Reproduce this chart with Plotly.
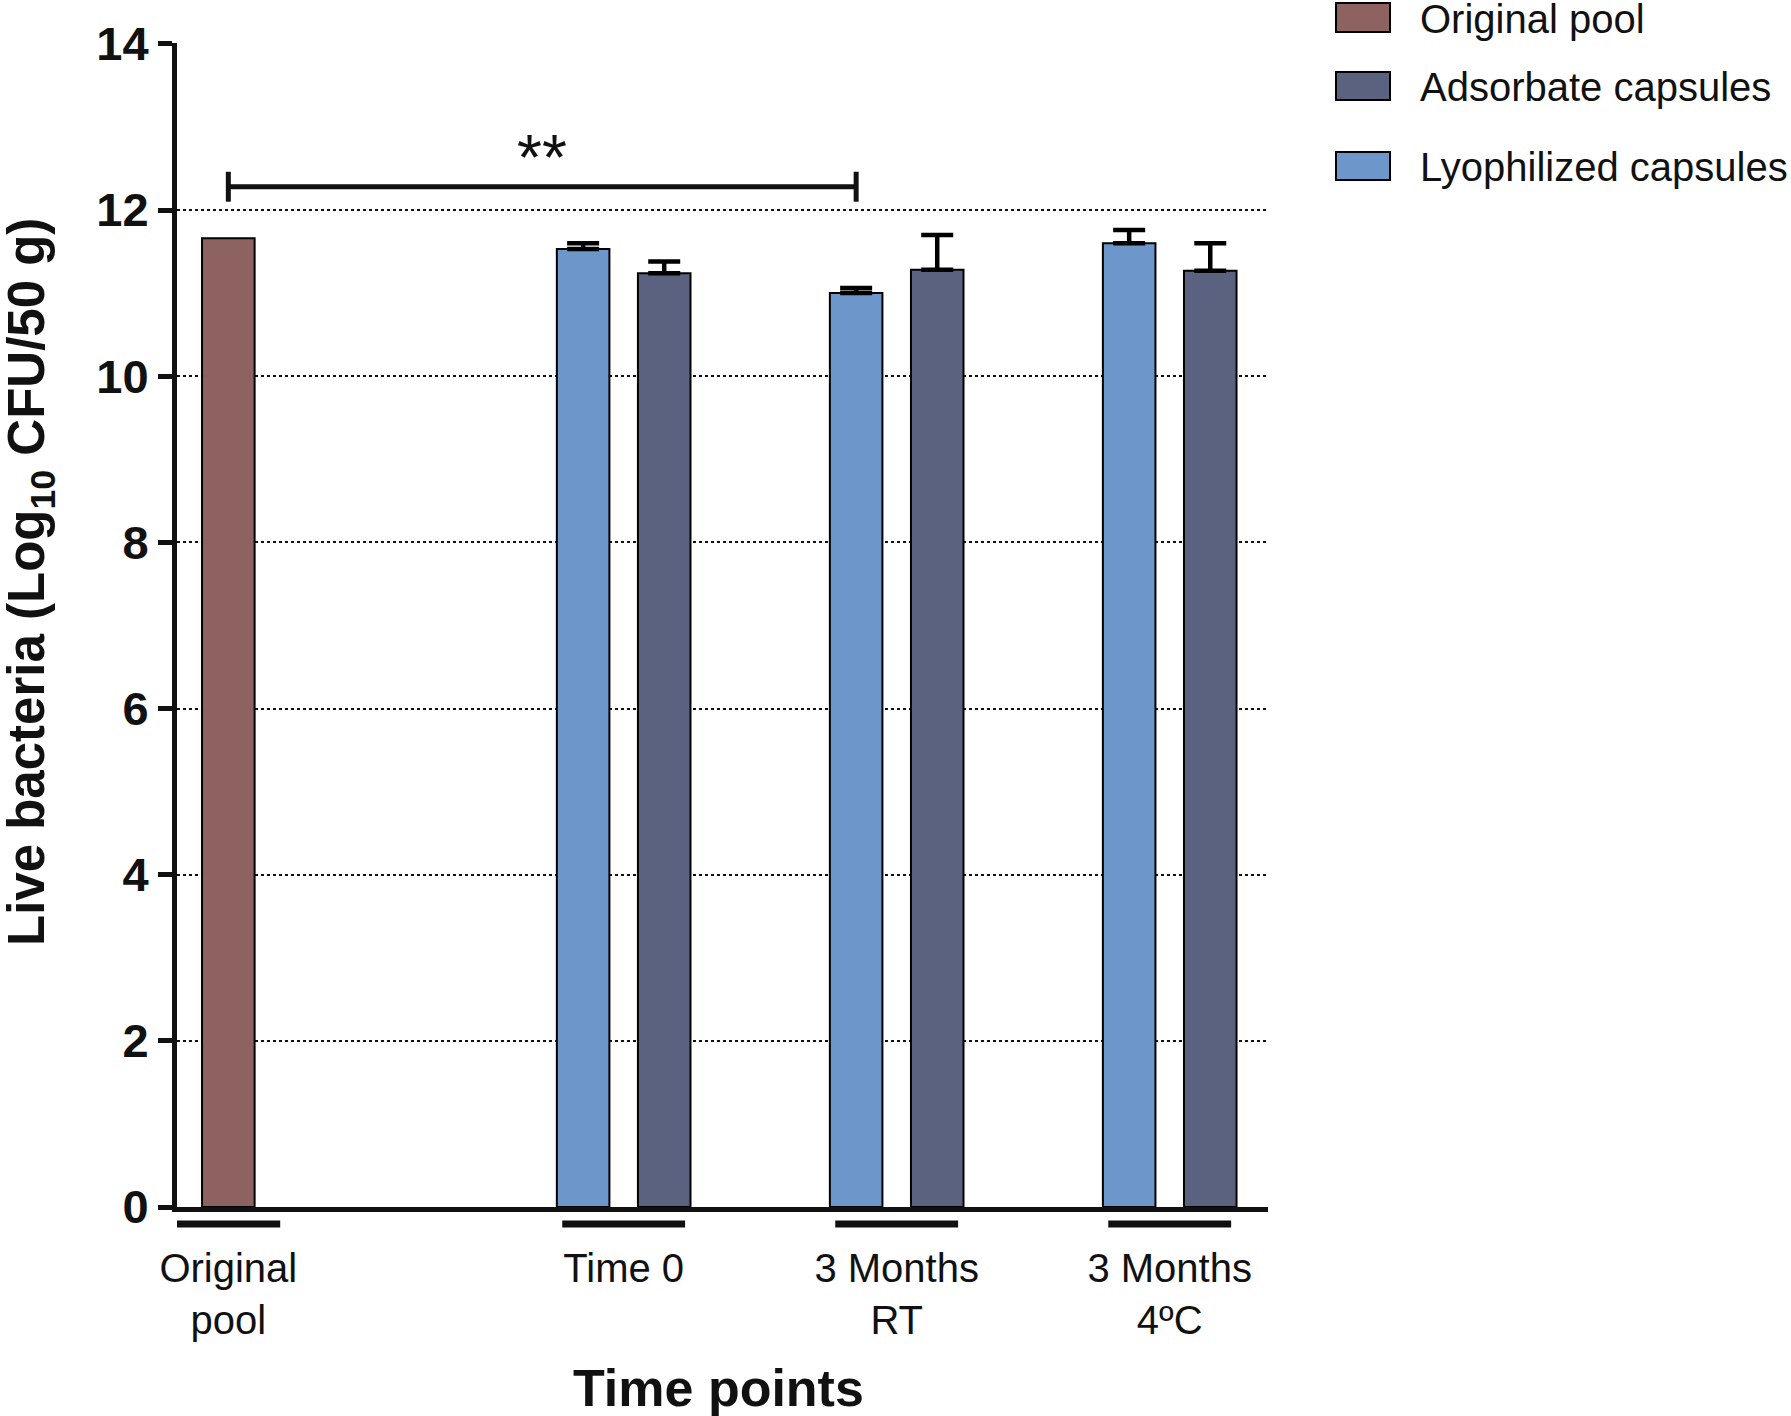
import plotly.graph_objects as go

# values (Log10 CFU / 50 g)
group_labels = ['Original<br>pool', 'Time 0', '3 Months<br>RT', '3 Months<br>4ºC']
original_pool = [11.66]
lyophilized = [11.53, 11.00, 11.60]
lyophilized_err = [0.07, 0.06, 0.16]
adsorbate = [11.24, 11.28, 11.27]
adsorbate_err = [0.14, 0.42, 0.33]
series_names = ['Original pool', 'Adsorbate capsules', 'Lyophilized capsules']
series_colors = ['#8f6262', '#5a627f', '#6d97cb']

# significance bracket: original pool vs lyophilized 3 months RT
sig_y = 12.28
sig_text = '**'

# layout of the groups on a numeric x axis
group_x = [0, 1.448, 2.448, 3.448]
pair_offset = 0.1485
bar_width = 0.1925
font = 'Liberation Sans, Arial, sans-serif'

W, H = 1791, 1416
# plot area in pixels
L, R, T, B = 177, 1268, 43, 1207


def px_x(p):
    return (p - L) / (R - L)


def px_y(p):
    return (B - p) / (B - T)


fig = go.Figure()

bar_line = dict(color='black', width=2)
err_style = dict(type='data', symmetric=False, color='black', thickness=4.5, width=16)
fig.add_trace(go.Bar(
    x=group_x[:1], y=original_pool, width=bar_width, name=series_names[0],
    marker=dict(color=series_colors[0], line=bar_line)))
fig.add_trace(go.Bar(
    x=[g - pair_offset for g in group_x[1:]], y=lyophilized, width=bar_width,
    name=series_names[2], marker=dict(color=series_colors[2], line=bar_line),
    error_y=dict(array=lyophilized_err, arrayminus=[0] * 3, **err_style)))
fig.add_trace(go.Bar(
    x=[g + pair_offset for g in group_x[1:]], y=adsorbate, width=bar_width,
    name=series_names[1], marker=dict(color=series_colors[1], line=bar_line),
    error_y=dict(array=adsorbate_err, arrayminus=[0] * 3, **err_style)))

shapes = []
# group underlines below the x axis
half = [0.19, 0.225, 0.225, 0.225]
for g, h in zip(group_x, half):
    shapes.append(dict(type='line', xref='x', yref='paper', x0=g - h, x1=g + h,
                       y0=px_y(1224), y1=px_y(1224), line=dict(color='#111', width=7)))

# significance bracket
x_a, x_b = group_x[0], group_x[2] - pair_offset
shapes.append(dict(type='line', x0=x_a, x1=x_b, y0=sig_y, y1=sig_y, line=dict(color='#111', width=5)))
for xe in (x_a, x_b):
    shapes.append(dict(type='line', x0=xe, x1=xe, y0=sig_y - 0.18, y1=sig_y + 0.18,
                       line=dict(color='#111', width=5)))

# hand-made legend (big boxes like the original)
legend_rows = [(3, 32), (72, 100), (152, 180)]
for (top, bot), color in zip(legend_rows, series_colors):
    shapes.append(dict(type='rect', xref='paper', yref='paper', x0=px_x(1336), x1=px_x(1390),
                       y0=px_y(bot), y1=px_y(top), fillcolor=color, line=dict(color='black', width=2)))

annotations = [
    dict(x=(x_a + x_b) / 2, y=12.62, text=sig_text, showarrow=False,
         xanchor='center', yanchor='middle',
         font=dict(family=font, size=64, color='#111')),
    dict(xref='paper', yref='paper', x=px_x(718), y=px_y(1388), text='<b>Time points</b>',
         xanchor='center', yanchor='middle',
         showarrow=False, font=dict(family=font, size=52, color='#111')),
    dict(xref='paper', yref='paper', x=px_x(30), y=px_y(582), textangle=-90,
         xanchor='center', yanchor='middle',
         text='<b>Live bacteria (Log<sub>10</sub> CFU/50 g)</b>',
         showarrow=False, font=dict(family=font, size=51, color='#111')),
]
for (top, bot), name in zip(legend_rows, series_names):
    annotations.append(dict(xref='paper', yref='paper', x=px_x(1418), y=px_y((top + bot) / 2 + 1),
                            xanchor='left', yanchor='middle', text=name, showarrow=False,
                            font=dict(family=font, size=40, color='#111')))

fig.update_layout(
    width=W, height=H,
    margin=dict(l=L, r=W - R, t=T, b=H - B, autoexpand=False),
    plot_bgcolor='white', paper_bgcolor='white',
    barmode='overlay', showlegend=False,
    shapes=shapes, annotations=annotations,
    font=dict(family=font, color='#111'),
)
fig.update_xaxes(
    range=[-0.188, 3.808], tickmode='array', tickvals=group_x, ticktext=group_labels,
    tickfont=dict(family=font, size=40), ticks='', ticklabelstandoff=22,
    showline=True, linecolor='#111', linewidth=5, showgrid=False, zeroline=False,
)
fig.update_yaxes(
    range=[0, 14.01], tickvals=list(range(0, 15, 2)),
    tickfont=dict(family=font, size=47, weight='bold'),
    ticks='outside', ticklen=14, tickwidth=5, tickcolor='#111',
    showline=True, linecolor='#111', linewidth=5, zeroline=False,
    showgrid=True, gridcolor='#111', gridwidth=2, griddash='dot',
)

# drop the default page margin so the figure fills the window exactly
fig.write_html('out.html', config={'displayModeBar': False},
               post_script="document.body.style.margin='0';")
